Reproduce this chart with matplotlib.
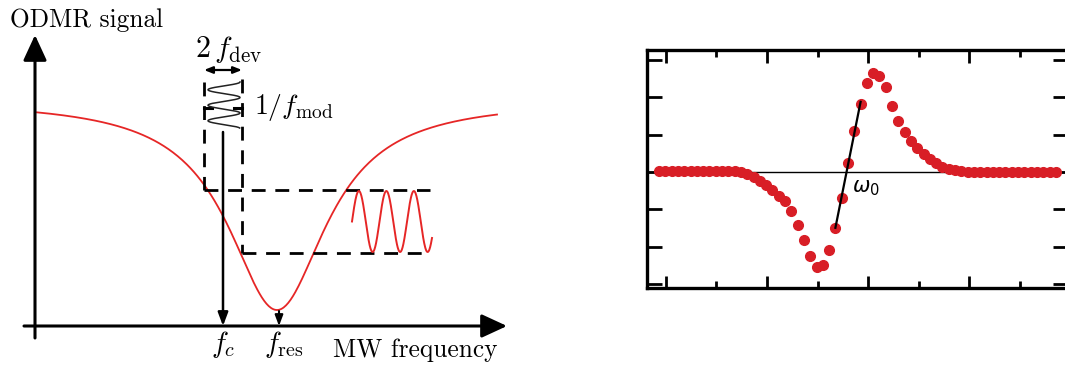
import numpy as np
import matplotlib
matplotlib.use('Agg')
import matplotlib.pyplot as plt
from matplotlib.ticker import MultipleLocator

plt.rcParams['mathtext.fontset'] = 'cm'

# ---- left panel: ODMR dip schematic (schematic units, y grows downward) ----
f_lo, f_hi = 37, 497          # span of the drawn resonance
f_res = 277                   # resonance centre
dip_width = 60                # half width of the Lorentzian dip
sig_base = 100                # off-resonance level
sig_depth = 210               # depth of the dip
f_c = 223                     # carrier frequency
f_dev = 19                    # frequency deviation
mod_top, mod_bottom = 82, 128  # extent of the modulation sketch (time)
mod_period = 15.5
lvl_hi, lvl_lo = 190, 253     # signal range swept by the modulation
out_x0, out_x1 = 352, 432     # where the output oscillation is sketched
out_period = 27.5

# ---- right panel: derivative (lock-in) signal ----
sweep = np.linspace(-2.069, 1.860, 64)
signal = [0.02, 0.02, 0.02, 0.02, 0.02, 0.02, 0.02, 0.02, 0.02, 0.02,
          0.03, 0.03, 0.02, -0.01, -0.05, -0.13, -0.24, -0.35, -0.48, -0.64,
          -0.78, -1.05, -1.42, -1.82, -2.25, -2.55, -2.49, -2.09, -1.50, -0.70,
          0.24, 1.10, 1.82, 2.38, 2.65, 2.57, 2.28, 1.77, 1.37, 1.07,
          0.83, 0.64, 0.48, 0.35, 0.24, 0.13, 0.08, 0.04, 0.02, 0.01,
          0.01, 0.01, 0.01, 0.01, 0.01, 0.01, 0.01, 0.01, 0.01, 0.01,
          0.01, 0.01, 0.01, 0.01]
fit_idx = slice(28, 33)

red = '#e62626'
dot_red = '#d81e26'
cm_text = dict(family='cmr10', fontsize=18.3)

fig = plt.figure(figsize=(10.65, 3.67), dpi=100)

# ---------------- left ----------------
ax = fig.add_axes([0, 0, 520 / 1065, 1])
ax.set_xlim(0, 520)
ax.set_ylim(367, 0)
ax.axis('off')

# axes arrows
head = '-|>,head_length=0.65,head_width=0.3'
ax.annotate('', xy=(35, 35), xytext=(35, 338),
            arrowprops=dict(arrowstyle=head, lw=2.2, color='black',
                            mutation_scale=24, shrinkA=0, shrinkB=0))
ax.annotate('', xy=(507, 326), xytext=(24, 326),
            arrowprops=dict(arrowstyle=head, lw=2.2, color='black',
                            mutation_scale=24, shrinkA=0, shrinkB=0))

# resonance curve
f = np.linspace(f_lo, f_hi, 400)
odmr = sig_base + sig_depth / (1 + ((f - f_res) / dip_width) ** 2)
ax.plot(f, odmr, color=red, lw=1.3)

# dashed guides
dash = dict(color='black', lw=2.0, dashes=(5, 3.5))
ax.plot([f_c - f_dev, f_c - f_dev], [mod_top, lvl_hi], **dash)
ax.plot([f_c + f_dev, f_c + f_dev], [mod_top - 3, lvl_lo], **dash)
ax.plot([f_c - f_dev, 430], [lvl_hi, lvl_hi], **dash)
ax.plot([f_c + f_dev, 425], [lvl_lo, lvl_lo], **dash)

# 2 f_dev span
ax.annotate('', xy=(f_c - f_dev, 70), xytext=(f_c + f_dev, 70),
            arrowprops=dict(arrowstyle='<|-|>,head_length=0.5,head_width=0.2',
                            lw=1.6, color='black', mutation_scale=10, shrinkA=0, shrinkB=0))
ax.plot([f_c - f_dev, f_c - f_dev + 8], [108, 108], color='black', lw=2.2)
ax.plot([f_c + f_dev - 8, f_c + f_dev], [108, 108], color='black', lw=2.2)

# frequency modulation sketch
t = np.linspace(mod_top, mod_bottom, 300)
ax.plot(f_c + 1 + 16 * np.cos(2 * np.pi * (t - mod_top) / mod_period), t,
        color='#222222', lw=1.1)

# carrier line down to f_c and pointer to f_res
ax.annotate('', xy=(f_c, 326), xytext=(f_c, 132),
            arrowprops=dict(arrowstyle='-|>,head_length=0.8,head_width=0.3',
                            lw=1.8, color='black', mutation_scale=10, shrinkA=0, shrinkB=0))
ax.annotate('', xy=(f_res + 2, 326), xytext=(f_res + 2, 311),
            arrowprops=dict(arrowstyle='-|>,head_length=0.8,head_width=0.3',
                            lw=1.5, color='black', mutation_scale=8, shrinkA=0, shrinkB=0))

# output oscillation
s = np.linspace(out_x0, out_x1, 300)
mid = (lvl_hi + lvl_lo) / 2
amp = (lvl_lo - lvl_hi) / 2 - 1
ax.plot(s, mid - amp * np.sin(2 * np.pi * (s - out_x0) / out_period), color=red, lw=1.4)

# labels
ax.text(10, 27, 'ODMR signal', ha='left', va='baseline', **cm_text)
ax.text(333, 357, 'MW frequency', ha='left', va='baseline', **cm_text)
ax.text(195, 57, r'$2\,f_{\rm dev}$', ha='left', va='baseline', fontsize=21.5)
ax.text(254, 114, r'$1/f_{\rm mod}$', ha='left', va='baseline', fontsize=20)
ax.text(f_c, 352, r'$f_c$', ha='center', va='baseline', fontsize=20.5)
ax.text(f_res + 7, 352, r'$f_{\rm res}$', ha='center', va='baseline', fontsize=20.5)

# ---------------- right ----------------
bx = fig.add_axes([647 / 1065, 79 / 367, 421 / 1065, 238 / 367])
bx.set_xlim(-2.188, 1.98)
bx.set_ylim(-3.11, 3.27)
bx.axhline(0, color='black', lw=1.0, zorder=2)
bx.plot(sweep, signal, 'o', color=dot_red, ms=7.0, mec=dot_red, zorder=3)

k = np.polyfit(sweep[fit_idx], signal[fit_idx], 1)
fx = np.array([sweep[fit_idx][0], sweep[fit_idx][-1]])
bx.plot(fx, np.polyval(k, fx), color='black', lw=1.6, zorder=4)
bx.text(-0.16, -0.43, r'$\omega_0$', ha='left', va='center', fontsize=15,
        math_fontfamily='dejavusans')

bx.xaxis.set_major_locator(MultipleLocator(1))
bx.xaxis.set_minor_locator(MultipleLocator(0.5))
bx.yaxis.set_major_locator(MultipleLocator(1))
bx.tick_params(axis='both', which='both', direction='in', top=True, right=True,
               labelbottom=False, labelleft=False, width=2.0)
bx.tick_params(axis='x', which='major', length=9)
bx.tick_params(axis='x', which='minor', length=5)
bx.tick_params(axis='y', which='major', length=11)
for sp in bx.spines.values():
    sp.set_linewidth(2.4)

fig.savefig('out.png', dpi=100)
